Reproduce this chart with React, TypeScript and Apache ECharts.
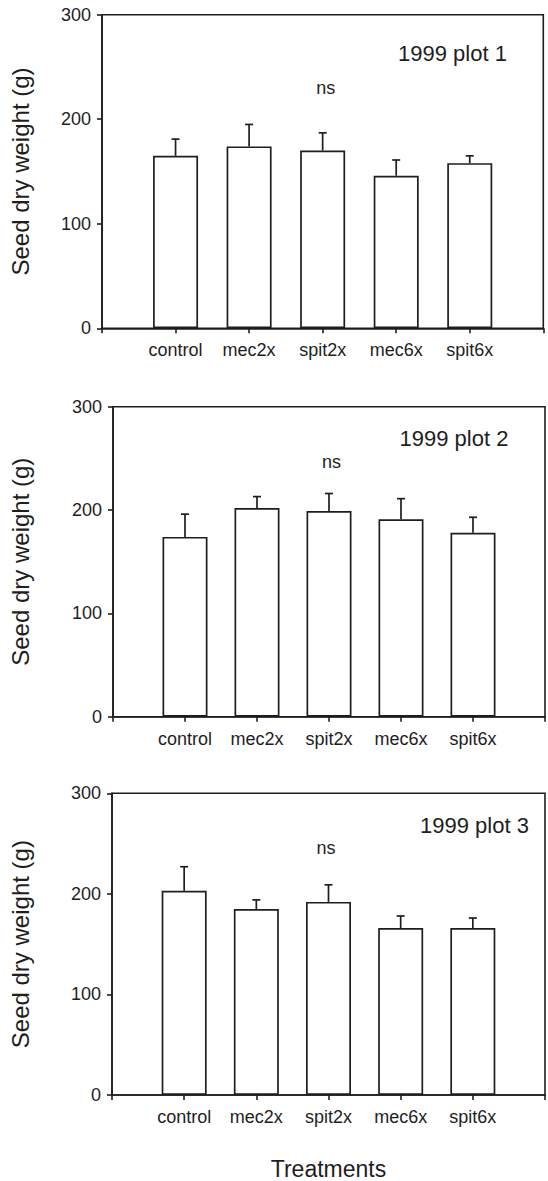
import React, { useEffect, useRef } from "react";
import * as echarts from "echarts";

const categories = ["", "control", "mec2x", "spit2x", "mec6x", "spit6x", ""];

const plot1Means = [165, 174, 170, 146, 158];
const plot1Err = [16, 21, 17, 15, 7];
const plot2Means = [174, 202, 199, 191, 178];
const plot2Err = [22, 11, 17, 20, 15];
const plot3Means = [203, 185, 192, 166, 166];
const plot3Err = [24, 9, 17, 12, 10];

const panelTitles = ["1999 plot 1", "1999 plot 2", "1999 plot 3"];
const sigLabels = ["ns", "ns", "ns"];
const yTicks = [0, 100, 200, 300];

const FONT = "Liberation Sans, Arial, Helvetica, sans-serif";
const INK = "#1e1e1e";

const grids = [
  { left: 96.7, top: 14.7, width: 446.6, height: 313.6 },
  { left: 106.7, top: 406.7, width: 440.3, height: 310 },
  { left: 105.3, top: 793.3, width: 442, height: 312 },
];
const textPos = [
  { title: [452.5, 53], ns: [325.7, 88] },
  { title: [454, 438.5], ns: [331.5, 461.7] },
  { title: [474.5, 825], ns: [326, 848.3] },
];

export default function App() {
  const ref = useRef<HTMLDivElement>(null);
  useEffect(() => {
    if (!ref.current) return;
    const chart = echarts.init(ref.current, undefined, { renderer: "svg" });
    const means = [plot1Means, plot2Means, plot3Means];
    const errs = [plot1Err, plot2Err, plot3Err];

    const xAxes = grids.map((g, i) => ({
      type: "category",
      gridIndex: i,
      data: categories,
      boundaryGap: false,
      axisLine: { show: true, lineStyle: { color: INK, width: 1.6 } },
      axisTick: { show: true, inside: false, length: 5, lineStyle: { color: INK, width: 1.6 }, interval: 0 },
      axisLabel: { show: true, interval: 0, margin: 13, fontSize: 18, color: INK, fontFamily: FONT },
      splitLine: { show: false },
      name: i === 2 ? "Treatments" : "",
      nameLocation: "middle",
      nameGap: 62,
      nameTextStyle: { fontSize: 23, color: INK, fontFamily: FONT },
    }));
    const yGaps = [70, 81, 80];
    const yAxes = grids.map((g, i) => ({
      type: "value",
      gridIndex: i,
      min: yTicks[0],
      max: yTicks[yTicks.length - 1],
      interval: 100,
      axisLine: { show: true, lineStyle: { color: INK, width: 1.6 } },
      axisTick: { show: true, inside: false, length: 5, lineStyle: { color: INK, width: 1.6 } },
      axisLabel: { margin: 11, fontSize: 18, color: INK, fontFamily: FONT },
      splitLine: { show: false },
      name: "Seed dry weight (g)",
      nameLocation: "middle",
      nameGap: yGaps[i],
      nameTextStyle: { fontSize: 24, color: INK, fontFamily: FONT },
    }));

    const series: any[] = [];
    means.forEach((m, i) => {
      series.push({
        type: "bar",
        xAxisIndex: i,
        yAxisIndex: i,
        barWidth: 45,
        data: m.map((v, k) => [k + 1, v]),
        itemStyle: { color: "#ffffff", borderColor: INK, borderWidth: 1.7 },
        z: 2,
      });
      series.push({
        type: "custom",
        xAxisIndex: i,
        yAxisIndex: i,
        data: m.map((v, k) => [k + 1, v, v + errs[i][k]]),
        z: 3,
        renderItem: (params: any, api: any) => {
          const base = api.coord([api.value(0), api.value(1)]);
          const top = api.coord([api.value(0), api.value(2)]);
          const style = { stroke: INK, lineWidth: 1.7 };
          return {
            type: "group",
            children: [
              { type: "line", shape: { x1: base[0], y1: base[1], x2: top[0], y2: top[1] }, style },
              { type: "line", shape: { x1: top[0] - 4, y1: top[1], x2: top[0] + 4, y2: top[1] }, style },
            ],
          };
        },
      });
    });

    const graphics: any[] = [];
    textPos.forEach((p, i) => {
      graphics.push({
        type: "text",
        x: p.title[0],
        y: p.title[1],
        style: { text: panelTitles[i], fontSize: 22, fill: INK, font: `22px ${FONT}`, textAlign: "center", textVerticalAlign: "middle" },
      });
      graphics.push({
        type: "text",
        x: p.ns[0],
        y: p.ns[1],
        style: { text: sigLabels[i], fontSize: 18, fill: INK, font: `18px ${FONT}`, textAlign: "center", textVerticalAlign: "middle" },
      });
    });

    chart.setOption({
      animation: false,
      backgroundColor: "#ffffff",
      grid: grids.map((g) => ({ ...g, show: true, borderColor: INK, borderWidth: 1.6, backgroundColor: "transparent", containLabel: false })),
      xAxis: xAxes,
      yAxis: yAxes,
      series,
      graphic: graphics,
    });
    return () => chart.dispose();
  }, []);
  return <div ref={ref} style={{ position: "absolute", left: 0, top: 0, width: 548, height: 1181 }} />;
}
